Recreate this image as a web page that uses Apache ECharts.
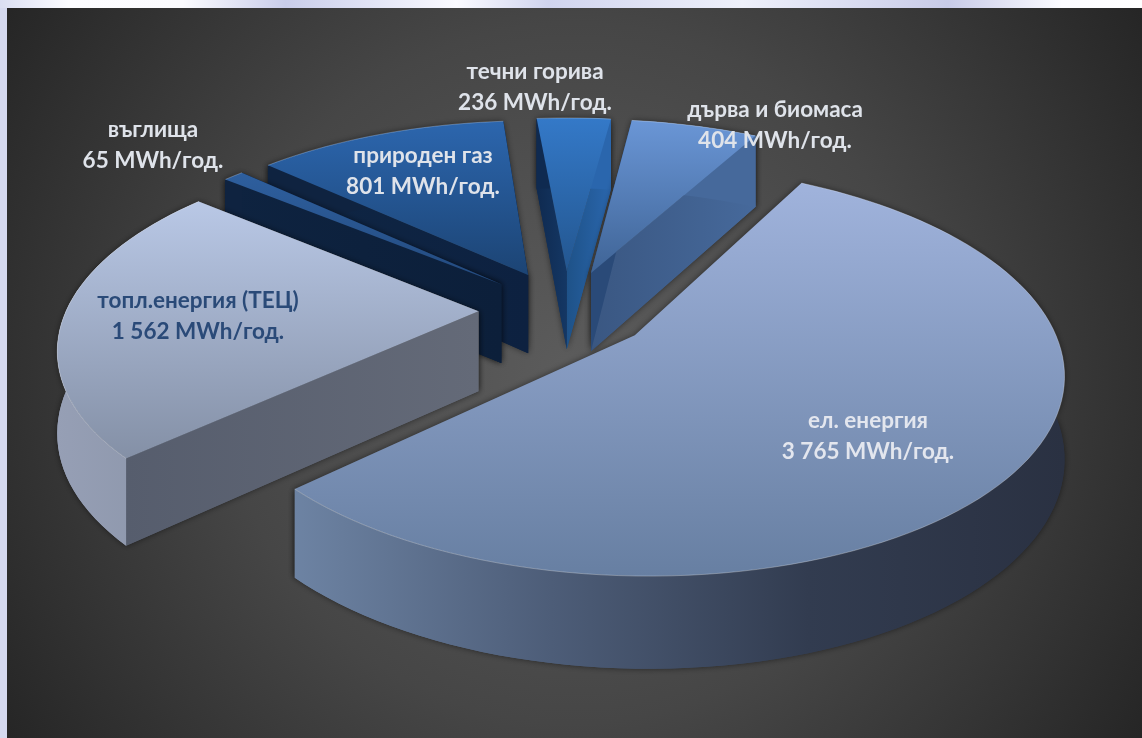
<!DOCTYPE html>
<html><head><meta charset="utf-8">
<style>html,body{margin:0;padding:0;background:#fff}#c{width:1142px;height:738px}</style>
<script src="https://cdn.jsdelivr.net/npm/echarts@6/dist/echarts.min.js"></script>
</head><body><div id="c"></div>
<script>
// data, clockwise from the top of the pie
const categories = ['течни горива','дърва и биомаса','ел. енергия','топл.енергия (ТЕЦ)','въглища','природен газ'];
const values = [236, 404, 3765, 1562, 65, 801];
const unit = ' MWh/год.';
const valueLabels = ['236','404','3 765','1 562','65','801'];

// appearance
const paintOrder = [5,4,3,0,1,2];
const startAngle = 355;
const view = {cx:565, cy:310, R:412, K:0.4636, persp:0.168, H:80, explode:0.21};
const looks = [
 {top:['#3479c8','#23568f'], outer:['#0f2a50','#0f2a50','#2a66ad','#2a66ad'], a:['#0f2a50','#143764'], b:['#1e5288','#2a66ad'], lx:535, ly:72, txt:'#dfe3ea'},
 {top:['#6a96d6','#3f6496'], outer:['#46699b','#46699b'], a:['#2a4a78','#2a4a78'], b:['#3a5782','#46699b'], lx:775, ly:110, txt:'#dfe3ea'},
 {top:['#a0b3dc','#677fa2'], outer:['#6d83a3','#4d5d78','#323c50','#2a3142'], a:['#444','#444'], b:['#444','#444'], lx:868, ly:421, txt:'#e3e6ee'},
 {top:['#b9c8e6','#8490a6'], outer:['#969fb5','#8a94a8'], a:['#565d6d','#646a78'], b:['#555','#555'], lx:198, ly:301, txt:'#2a4a78'},
 {top:['#2e5f9e','#234a7e'], outer:['#0f2340','#0f2340'], a:['#0e2340','#0c1f3a'], b:['#0e2240','#0e2240'], lx:153, ly:130, txt:'#dfe3ea'},
 {top:['#2c66ae','#1c4474'], outer:['#0f2340','#0f2340'], a:['#0f2644','#0d2140'], b:['#0f2442','#0f2442'], lx:423, ly:156, txt:'#dfe3ea'}
];

const total = values.reduce((a,b)=>a+b,0);
const starts = []; values.reduce((acc,v,i)=>{starts[i]=acc; return acc+v/total*360;}, startAngle);

function project(wx, wy, lift){
  const s = 1/(1+view.persp*wy);
  return [view.cx + view.R*wx*s, view.cy - view.R*view.K*wy*s + lift*Math.pow(s,0.7)*view.H];
}
function lin(stops, horizontal){
  return {type:'linear',x:0,y:0,x2:horizontal?1:0,y2:horizontal?0:1,
    colorStops:stops.map((c,i)=>({offset:i/(stops.length-1),color:c}))};
}
const sh = {shadowBlur:6, shadowColor:'rgba(0,0,0,0.5)'};

function renderItem(params, api){
  const i = api.value(0), val = api.value(1);
  const look = looks[i];
  const a0 = starts[i]*Math.PI/180, a1 = a0 + val/total*2*Math.PI, mid=(a0+a1)/2;
  const ox = Math.sin(mid)*view.explode, oy = Math.cos(mid)*view.explode;
  const n = Math.max(2, Math.ceil((a1-a0)/(Math.PI/90)));
  const arc=[], arcLow=[];
  for(let k=0;k<=n;k++){
    const t=a0+(a1-a0)*k/n, wx=ox+Math.sin(t), wy=oy+Math.cos(t);
    arc.push(project(wx,wy,0)); arcLow.push(project(wx,wy,1));
  }
  const ap=project(ox,oy,0), apLow=project(ox,oy,1);
  const poly=(pts,fill,extra)=>({type:'polygon',shape:{points:pts},style:Object.assign({fill:fill},extra||{}),silent:true});
  const walls=[
    [[ap,arc[n],arcLow[n],apLow], lin(look.b,true)],
    [[ap,arc[0],arcLow[0],apLow], lin(look.a,true)],
    [arc.concat(arcLow.slice().reverse()), lin(look.outer,true)]
  ];
  const kids=[];
  walls.forEach(w=>kids.push(poly(w[0],w[1],sh)));   // soft shadow pass
  walls.forEach(w=>kids.push(poly(w[0],w[1])));      // clean pass, hides seams
  kids.push(poly([ap].concat(arc), lin(look.top,false)));
  kids.push({type:'polyline',shape:{points:arc},style:{fill:null,stroke:'rgba(255,255,255,0.28)',lineWidth:1},silent:true});
  [categories[i], valueLabels[i]+unit].forEach((t,j)=>{
    kids.push({type:'text',silent:true,z2:100,style:{text:t,x:look.lx,y:look.ly+j*30.5,fill:look.txt,
      font:'bold 22.5px Lato, Carlito, sans-serif',align:'center',verticalAlign:'middle',
      shadowBlur:1.5,shadowColor:look.txt}});
  });
  return {type:'group',children:kids};
}

const chart = echarts.init(document.getElementById('c'),null,{renderer:'canvas'});
chart.setOption({
  animation:false,
  backgroundColor:'#d5d9ef',
  graphic:[
    {type:'rect',z:-10,silent:true,shape:{x:0,y:0,width:1142,height:8},style:{fill:{type:'linear',x:0,y:0,x2:1,y2:0,colorStops:[
      {offset:0,color:'#dadef2'},{offset:0.06,color:'#fcfcff'},{offset:0.16,color:'#fbfbfe'},{offset:0.25,color:'#c9cdea'},{offset:0.4,color:'#fafaff'},{offset:0.48,color:'#d0d4ee'},{offset:0.65,color:'#eef0fa'},{offset:0.83,color:'#c8cbe8'},{offset:0.93,color:'#fbfbff'},{offset:1,color:'#ffffff'}]}}},
    {type:'rect',z:-9,silent:true,shape:{x:7,y:8,width:1135,height:730},style:{fill:{type:'radial',x:0.5,y:0.5,r:0.96,colorStops:[
      {offset:0,color:'#5c5c5c'},{offset:0.5,color:'#464646'},{offset:1,color:'#232323'}]}}}
  ],
  series:[{type:'custom',coordinateSystem:'none',renderItem:renderItem,
    data:paintOrder.map(i=>[i,values[i]]),silent:true}]
});
</script></body></html>
